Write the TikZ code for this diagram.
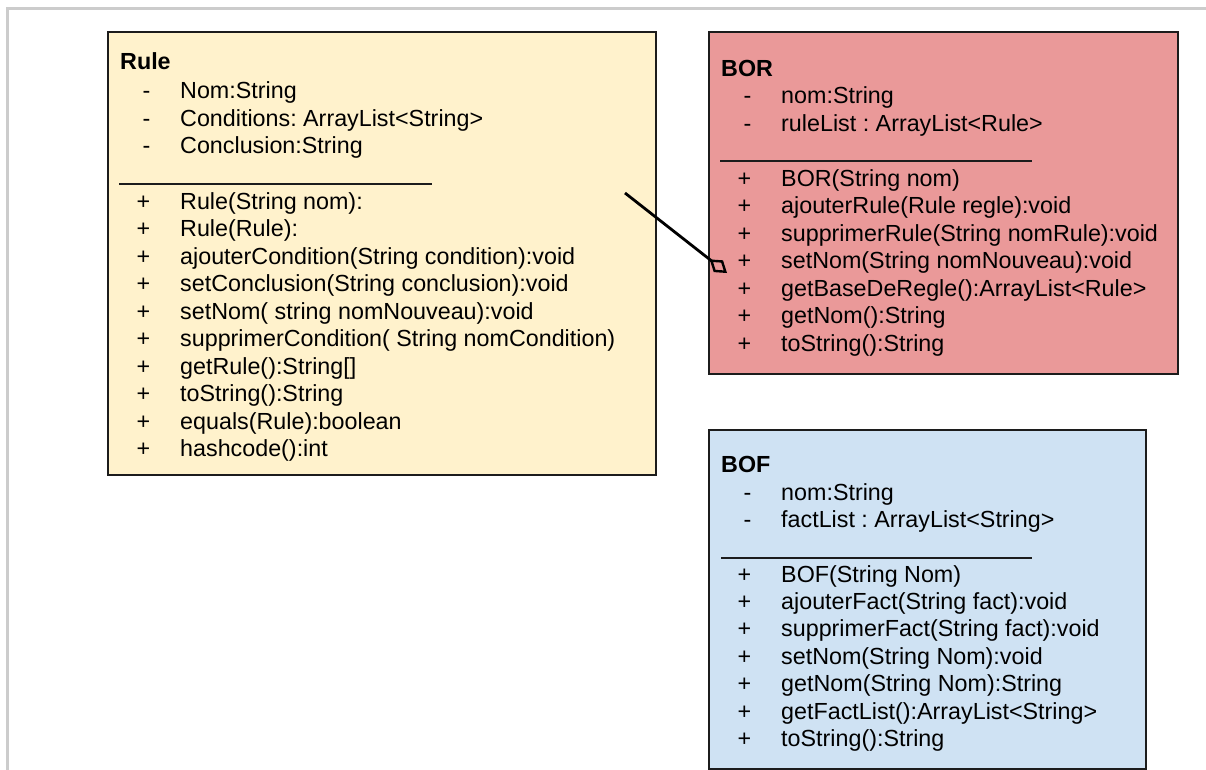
\documentclass[tikz,border=0pt]{standalone}
\usepackage{fontspec}
\setmainfont{Liberation Sans}
\usetikzlibrary{arrows.meta}

\definecolor{rulefill}{HTML}{FFF2CC}
\definecolor{borfill}{HTML}{EA9999}
\definecolor{boffill}{HTML}{CFE2F3}
\definecolor{framegray}{HTML}{CCCCCC}
\definecolor{boxline}{HTML}{1C1C1C}

\newcommand\umlsize{\fontsize{23.3}{28}\selectfont\frenchspacing}

% #1 name prefix, #2 box left x, #3 first baseline, #4 line step, #5 marker, #6 entries
\newcommand\umlmembers[6]{%
  \foreach \t [count=\i] in {#6} {
    \pgfmathsetmacro\yy{#3+#4*(\i-1)}
    \node[marker] (#1\i-mark) at (#2+42.5,\yy) {#5};
    \node[member] (#1\i) at (#2+72,\yy) {\t};
  }%
}

\begin{document}
\begin{tikzpicture}[x=1pt,y=-1pt,
  classbox/.style={draw=boxline, line width=1.8pt, anchor=north west,
    inner sep=0pt, outer sep=0pt},
  classname/.style={anchor=base west, inner sep=0pt, font=\umlsize\bfseries},
  member/.style={anchor=base west, inner sep=0pt, font=\umlsize},
  marker/.style={anchor=base east, inner sep=0pt, font=\umlsize},
  divider/.style={draw=boxline, line width=1.3pt},
  aggregation/.style={draw=black, line width=2.8pt,
    -{Diamond[open, length=22pt, width=15pt, line width=2.4pt]}}]

\useasboundingbox (0,0) rectangle (1206,770);
\clip (0,0) rectangle (1206,770);

% page frame
\draw[framegray, line width=2.5pt] (7.5,770) -- (7.5,8.5) -- (1206,8.5);

% ---------- Rule ----------
\node[classbox, fill=rulefill, minimum width=548pt, minimum height=443pt] (rule) at (108,32) {};
\node[classname] (rule-name) at (120,70) {Rule};
\umlmembers{rule-a}{108}{99}{27.5}{-}{Nom:String, Conditions: ArrayList<String>, Conclusion:String}
\draw[divider] (119,184) -- (432,184);
\umlmembers{rule-m}{108}{209}{27.55}{+}{Rule(String nom):, Rule(Rule):,
  ajouterCondition(String condition):void, setConclusion(String conclusion):void,
  setNom( string nomNouveau):void, supprimerCondition( String nomCondition),
  getRule():String[], toString():String, equals(Rule):boolean, hashcode():int}

% ---------- BOR ----------
\node[classbox, fill=borfill, minimum width=469pt, minimum height=342pt] (bor) at (709,32) {};
\node[classname] (bor-name) at (721,77) {BOR};
\umlmembers{bor-a}{709}{104}{27.5}{-}{nom:String, ruleList : ArrayList<Rule>}
\draw[divider] (720,161) -- (1032,161);
\umlmembers{bor-m}{709}{186}{27.5}{+}{BOR(String nom), ajouterRule(Rule regle):void,
  supprimerRule(String nomRule):void, setNom(String nomNouveau):void,
  getBaseDeRegle():ArrayList<Rule>, getNom():String, toString():String}

% ---------- BOF ----------
\node[classbox, fill=boffill, minimum width=437pt, minimum height=339pt] (bof) at (709,430) {};
\node[classname] (bof-name) at (721,472) {BOF};
\umlmembers{bof-a}{709}{500.5}{27.3}{-}{nom:String, factList : ArrayList<String>}
\draw[divider] (721,558) -- (1032,558);
\umlmembers{bof-m}{709}{582}{27.4}{+}{BOF(String Nom), ajouterFact(String fact):void,
  supprimerFact(String fact):void, setNom(String Nom):void,
  getNom(String Nom):String, getFactList():ArrayList<String>, toString():String}

% ---------- aggregation ----------
\coordinate (agg-start) at (625,193);
\coordinate (agg-end) at (727,273);
\draw[aggregation] (agg-start) -- (agg-end);

\end{tikzpicture}
\end{document}
